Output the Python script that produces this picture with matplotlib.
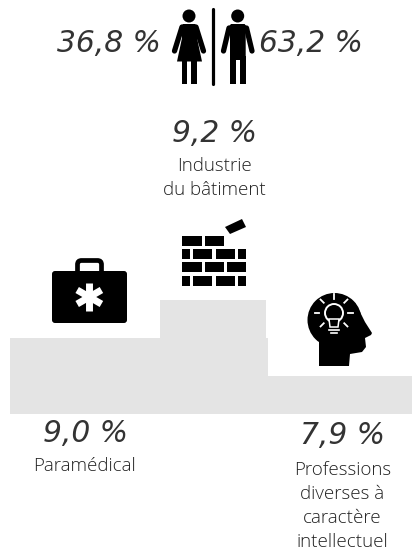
import matplotlib
matplotlib.use('Agg')
from matplotlib import pyplot as plt
from matplotlib.patches import Rectangle, Circle, FancyBboxPatch, Polygon
import numpy as np

# podium steps, left to right
categories = ['Paramédical', 'Industrie\ndu bâtiment', 'Professions\ndiverses à\ncaractère\nintellectuel']
values = ['9,0 %', '9,2 %', '7,9 %']
podium_rank = [2, 3, 1]
women = '36,8 %'
men = '63,2 %'

bar_left = [10, 160, 268]
bar_width = [258, 106, 144]
step = 38
base = 414
GREY = '#e4e4e4'

fig = plt.figure(figsize=(4.12, 5.55), dpi=100)
ax = fig.add_axes([0, 0, 1, 1])
ax.set_xlim(0, 412)
ax.set_ylim(555, 0)
ax.axis('off')

heights = [r * step for r in podium_rank]
ax.bar(bar_left, heights, bar_width, bottom=[base - h for h in heights], align='edge', color=GREY, lw=0)


def rect(x0, y0, x1, y1, c='k', z=3):
    ax.add_patch(Rectangle((x0, y0), x1 - x0, y1 - y0, fc=c, ec='none', zorder=z))


def rounded(x0, y0, x1, y1, r, fc='k', ec='none', lw=0, z=3):
    ax.add_patch(FancyBboxPatch((x0 + r, y0 + r), x1 - x0 - 2 * r, y1 - y0 - 2 * r,
                                boxstyle='round,pad=%f,rounding_size=%f' % (r, r),
                                fc=fc, ec=ec, lw=lw, zorder=z))


def limb(x0, y0, x1, y1, w):
    ax.plot([x0, x1], [y0, y1], color='k', lw=w, solid_capstyle='round', zorder=3)


# woman
ax.add_patch(Circle((189, 16), 6.5, fc='k', ec='none', zorder=3))
ax.add_patch(Polygon([(183, 24), (195, 24), (198, 27), (197, 38), (202, 61.5), (177, 61.5),
                      (182, 38), (181, 27)], fc='k', ec='none', zorder=3))
limb(182, 27, 174.5, 51, 3.8)
limb(196, 27, 203.5, 51, 3.8)
rect(181.7, 60, 187.3, 83.5)
rect(191, 60, 196.7, 83.5)

# separator
ax.plot([213, 213], [9, 84], color='k', lw=2.3, solid_capstyle='round', zorder=3)

# man
ax.add_patch(Circle((237.7, 16), 6.5, fc='k', ec='none', zorder=3))
rounded(230, 24, 245.7, 60, 3)
ax.add_patch(Polygon([(231, 24), (244.5, 24), (248, 28), (227.5, 28)], fc='k', ec='none', zorder=3))
limb(229, 28, 223.5, 51, 3.8)
limb(246.5, 28, 252, 51, 3.8)
rect(230, 56, 235.7, 83.5)
rect(240, 56, 245.7, 83.5)

# toolbox
rounded(52, 271, 127, 323, 3)
rounded(77.5, 260.5, 101.5, 276, 4, fc='none', ec='k', lw=3.4)
for a in (90, 30, 150):
    t = np.radians(a)
    dx, dy = 14 * np.cos(t), 14 * np.sin(t)
    ax.plot([89.3 - dx, 89.3 + dx], [297 - dy, 297 + dy], color='white', lw=5, zorder=4,
            solid_capstyle='butt')

# bricks
rows = [(236, 246, [(182, 202), (205, 224)]),
        (249, 259, [(182, 190), (193, 212), (216, 235), (238, 246)]),
        (262, 272, [(182, 202), (205, 224), (227, 246)]),
        (276, 286, [(182, 190), (193, 212), (216, 235), (238, 246)])]
for y0, y1, spans in rows:
    for x0, x1 in spans:
        rect(x0, y0, x1, y1)
ax.add_patch(Polygon([(225, 227), (242, 219), (246, 227), (230, 234)], fc='k', ec='none', zorder=3))

# head with bulb
ax.add_patch(Circle((334.5, 320), 27, fc='k', ec='none', zorder=3))
face = [(319, 366), (319, 335), (355, 303), (360, 312), (365, 322), (372, 333), (371, 335),
        (365, 338), (366, 347), (362, 352), (350, 354), (349, 366)]
ax.add_patch(Polygon(face, closed=True, fc='k', ec='none', zorder=3))
ax.add_patch(Circle((334, 313), 9, fc='none', ec='white', lw=1.4, zorder=4))
ax.add_patch(Polygon([(329, 319), (339, 319), (338, 327), (330, 327)], fc='k', ec='white', lw=1.1, zorder=5))
for y, (x0, x1) in zip([330, 333], [(329, 339), (331, 337)]):
    ax.plot([x0, x1], [y, y], color='white', lw=1.2, zorder=5)
for a in [0, 45, 90, 135, 180, 225, 315]:
    t = np.radians(a)
    ax.plot([334 + 14.5 * np.cos(t), 334 + 19 * np.cos(t)],
            [313 - 14.5 * np.sin(t), 313 - 19 * np.sin(t)], color='white', lw=1.3, zorder=5)

# texts
num = dict(fontsize=21.4, style='italic', family='DejaVu Sans', color='#333333', ha='center', va='center')
lab = dict(fontsize=13.5, family=['Open Sans', 'DejaVu Sans'], color='#222222', ha='center', va='center',
           fontweight='light', linespacing=1.42)

ax.text(108.5, 44, women, **num)
ax.text(310.5, 44, men, **num)
ax.text(214.5, 133, values[1], **num)
ax.text(85.5, 434, values[0], **num)
ax.text(342.5, 436, values[2], **num)

ax.text(214.5, 178, categories[1], **lab)
ax.text(85, 466, categories[0], **lab)
ax.text(342.5, 506, categories[2], **lab)

fig.savefig('out.png', dpi=100)
